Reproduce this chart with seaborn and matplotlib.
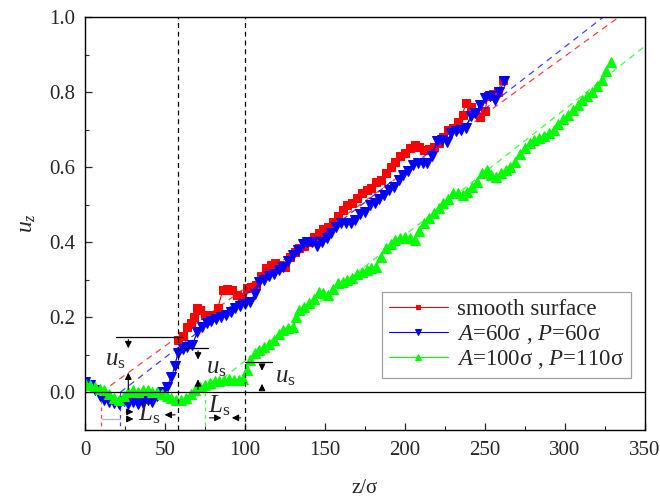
import numpy as np
import pandas as pd
import matplotlib
matplotlib.use("Agg")
import matplotlib.pyplot as plt
import seaborn as sns

# ---------------- data ----------------
smooth_z = [58, 61, 64, 66, 68, 70, 72, 75, 78, 80, 83, 86, 89, 92, 95, 98, 101, 104, 107, 110,
            113, 116, 119, 122, 125, 128, 131, 134, 137, 140, 143, 146, 149, 152, 155, 158, 161,
            164, 167, 170, 173, 176, 179, 182, 185, 188, 191, 194, 197, 200, 203, 206, 209, 212,
            215, 218, 221, 224, 227, 230, 233, 236, 238, 241, 244, 247, 250, 252, 255, 258, 261]
smooth_u = [0.14, 0.15, 0.175, 0.185, 0.2, 0.225, 0.22, 0.207, 0.205, 0.2, 0.225, 0.272, 0.275,
            0.272, 0.26, 0.255, 0.278, 0.28, 0.285, 0.31, 0.33, 0.34, 0.345, 0.34, 0.335, 0.36,
            0.375, 0.385, 0.39, 0.4, 0.415, 0.425, 0.435, 0.44, 0.455, 0.47, 0.487, 0.5, 0.505,
            0.518, 0.53, 0.54, 0.545, 0.56, 0.567, 0.585, 0.6, 0.615, 0.63, 0.638, 0.65, 0.66,
            0.655, 0.647, 0.648, 0.655, 0.665, 0.68, 0.7, 0.705, 0.72, 0.74, 0.77, 0.76, 0.745,
            0.733, 0.75, 0.79, 0.795, 0.8, 0.833]

a60_z = [0, 3, 6, 9, 12, 15, 18, 21, 24, 27, 30, 33, 36, 39, 42, 45, 48, 51, 54, 56, 58, 61, 64,
         67, 70, 73, 76, 79, 82, 85, 88, 91, 94, 97, 100, 103, 106, 109, 112, 115, 118, 121, 124,
         127, 130, 133, 136, 139, 142, 145, 148, 151, 154, 157, 160, 163, 166, 169, 172, 175, 178,
         181, 184, 187, 190, 193, 196, 199, 202, 205, 208, 211, 214, 217, 220, 223, 226, 229, 232,
         235, 238, 241, 244, 247, 250, 253, 256, 259, 262]
a60_u = [0.028, 0.02, 0.005, -0.01, -0.02, -0.025, -0.028, -0.03, -0.022, -0.03, -0.025, -0.03,
         -0.028, -0.02, -0.025, -0.01, 0.0, 0.015, 0.04, 0.07, 0.105, 0.115, 0.12, 0.125, 0.16,
         0.175, 0.185, 0.19, 0.195, 0.2, 0.205, 0.215, 0.225, 0.23, 0.235, 0.24, 0.262, 0.295,
         0.3, 0.31, 0.315, 0.325, 0.335, 0.35, 0.365, 0.38, 0.395, 0.4, 0.4, 0.39, 0.4, 0.41,
         0.425, 0.44, 0.45, 0.45, 0.452, 0.46, 0.475, 0.48, 0.5, 0.505, 0.515, 0.525, 0.54, 0.548,
         0.565, 0.58, 0.59, 0.605, 0.61, 0.612, 0.612, 0.63, 0.67, 0.673, 0.668, 0.69, 0.695, 0.7,
         0.705, 0.735, 0.745, 0.765, 0.785, 0.79, 0.78, 0.8, 0.83]

a100_z = [0, 3, 6, 9, 12, 15, 18, 21, 24, 27, 30, 33, 36, 39, 42, 45, 48, 51, 54, 57, 60, 63, 66,
          69, 72, 75, 78, 81, 84, 87, 90, 93, 96, 99, 101, 103, 106, 109, 112, 115, 118, 121, 124,
          127, 130, 132, 134, 137, 140, 143, 146, 149, 152, 155, 158, 161, 164, 167, 170, 173, 176,
          179, 182, 185, 188, 191, 194, 197, 200, 203, 206, 209, 212, 215, 218, 221, 224, 227, 230,
          233, 236, 239, 242, 245, 248, 251, 254, 257, 260, 263, 266, 269, 272, 275, 278, 281, 284,
          287, 290, 293, 296, 299, 302, 305, 308, 311, 314, 317, 320, 323, 326, 329]
a100_u = [0.025, 0.02, 0.015, 0.01, 0.005, -0.005, -0.015, -0.02, -0.01, 0.0, 0.005, 0.0, 0.007,
          0.005, 0.0, 0.0, -0.005, -0.01, -0.015, -0.02, -0.02, -0.015, -0.005, 0.005, 0.015, 0.02,
          0.025, 0.03, 0.03, 0.033, 0.035, 0.033, 0.033, 0.035, 0.06, 0.087, 0.105, 0.113, 0.12,
          0.13, 0.14, 0.155, 0.167, 0.172, 0.175, 0.2, 0.22, 0.228, 0.238, 0.25, 0.268, 0.265, 0.26,
          0.275, 0.29, 0.295, 0.3, 0.305, 0.315, 0.32, 0.325, 0.332, 0.335, 0.36, 0.385, 0.395,
          0.405, 0.41, 0.415, 0.412, 0.407, 0.43, 0.45, 0.465, 0.478, 0.49, 0.505, 0.515, 0.53,
          0.53, 0.527, 0.535, 0.548, 0.56, 0.585, 0.593, 0.58, 0.575, 0.585, 0.593, 0.6, 0.615,
          0.635, 0.65, 0.665, 0.673, 0.678, 0.682, 0.69, 0.7, 0.715, 0.727, 0.74, 0.753, 0.765,
          0.78, 0.79, 0.8, 0.815, 0.833, 0.855, 0.88]

# linear fits (dashed extrapolation lines)
smooth_fit_z = [10, 350]
smooth_fit_u = [0.0, 1.05]
a60_fit_z = [22, 350]
a60_fit_u = [0.0, 1.086]
a100_fit_z = [75, 350]
a100_fit_u = [0.0, 0.922]

labels = ["smooth surface", r"$A$=60σ , $P$=60σ", r"$A$=100σ , $P$=110σ"]
colors = ["#ff0000", "#0000ff", "#00ff00"]
wall_z = [58, 100]

# ---------------- style ----------------
sns.set_style("ticks")
plt.rcParams["font.family"] = ["Liberation Serif", "DejaVu Serif"]
plt.rcParams["mathtext.fontset"] = "custom"
plt.rcParams["mathtext.rm"] = "Liberation Serif"
plt.rcParams["mathtext.it"] = "Liberation Serif:italic"
plt.rcParams["xtick.direction"] = "in"
plt.rcParams["ytick.direction"] = "in"

fig = plt.figure(figsize=(6.6, 5.01), dpi=100)
ax = fig.add_axes([0.129, 0.142, 0.848, 0.824])

series = [(smooth_z, smooth_u, "s", 6), (a60_z, a60_u, "v", 7), (a100_z, a100_u, "^", 7)]
fits = [(smooth_fit_z, smooth_fit_u), (a60_fit_z, a60_fit_u), (a100_fit_z, a100_fit_u)]

for (z, u, m, ms), (fz, fu), lab, c in zip(series, fits, labels, colors):
    df = pd.DataFrame({"z": z, "u": u})
    sns.lineplot(data=df, x="z", y="u", ax=ax, color=c, marker=m, markersize=ms,
                 markeredgecolor=c, linewidth=0.8, estimator=None, sort=False, label=lab)
    fdf = pd.DataFrame({"z": fz, "u": fu})
    sns.lineplot(data=fdf, x="z", y="u", ax=ax, color=c, linestyle=(0, (5, 4)),
                 linewidth=0.9, alpha=0.75, estimator=None, label="_nolegend_")
    # vertical dashed marker of slip position
    ax.plot([fz[0], fz[0]], [fu[0], -0.1], color=c, linestyle=(0, (3, 3)), linewidth=0.9, alpha=0.75)

# reference lines
ax.axhline(0.0, color="black", linewidth=0.9)
for wz in wall_z:
    ax.axvline(wz, color="black", linestyle=(0, (4, 3)), linewidth=0.9)

# u_s annotations
us_marks = [(19, 61, 27, 0.148, 0.11, 0.06, 19, 0.085),
            (61, 77, 70.6, 0.118, 0.08, 0.042, 82, 0.065),
            (100, 117, 110.6, 0.081, 0.05, 0.03, 125, 0.04)]
for x0, x1, xa, yl, ytip_down, ytip_up, tx, ty in us_marks:
    ax.plot([x0, x1], [yl, yl], color="black", linewidth=0.9)
    ax.annotate("", xy=(xa, ytip_down), xytext=(xa, yl),
                arrowprops=dict(arrowstyle="-|>", color="black", lw=0.8, mutation_scale=10))
    ax.annotate("", xy=(xa, ytip_up), xytext=(xa, 0.0),
                arrowprops=dict(arrowstyle="-|>", color="black", lw=0.8, mutation_scale=10))
    ax.text(tx, ty, r"$u_{\rm s}$", fontsize=18, ha="center", va="center")

# L_s annotations
ax.plot([10.6, 22], [-0.071, -0.071], color="#bbbbbb", linewidth=1.0)
arrows = [(24, 32, -0.052), (24, 32, -0.071), (58, 48, -0.06), (76, 87, -0.068), (99, 90, -0.068)]
for xt, xh, yy in arrows:
    ax.annotate("", xy=(xh, yy), xytext=(xt, yy),
                arrowprops=dict(arrowstyle="-|>", color="black", lw=0.8, mutation_scale=10))
ax.text(40, -0.058, r"$L_{\rm s}$", fontsize=18, ha="center", va="center")
ax.text(84, -0.035, r"$L_{\rm s}$", fontsize=18, ha="center", va="center")

# axes
ax.set_xlim(0, 350)
ax.set_ylim(-0.1, 1.0)
ax.set_xticks([0, 50, 100, 150, 200, 250, 300, 350])
ax.set_yticks([0.0, 0.2, 0.4, 0.6, 0.8, 1.0])
ax.set_yticklabels(["0.0", "0.2", "0.4", "0.6", "0.8", "1.0"])
ax.set_xticks(np.arange(0, 351, 25), minor=True)
ax.set_yticks(np.arange(-0.1, 1.0, 0.1), minor=True)
ax.tick_params(which="major", length=5, width=0.9, labelsize=15, top=False, right=False)
ax.tick_params(axis="x", which="major", pad=8)
ax.tick_params(axis="y", which="major", pad=7)
ax.tick_params(which="minor", length=3, width=0.8, top=False, right=False)
for sp in ax.spines.values():
    sp.set_visible(True)
    sp.set_color("black")
    sp.set_linewidth(1.0)

ax.set_xlabel("z/σ", fontsize=15, labelpad=14)
ax.set_ylabel(r"$u_z$", fontsize=17, labelpad=8)

leg = ax.legend(loc="upper left", bbox_to_anchor=(0.53, 0.334), fontsize=16.5, frameon=True,
                fancybox=False, edgecolor="#888888", handlelength=2.6, borderpad=0.3,
                labelspacing=0.12, handletextpad=0.4, borderaxespad=0.0, markerscale=0.6)
leg.get_frame().set_linewidth(0.9)

fig.savefig("out.png", dpi=100)
